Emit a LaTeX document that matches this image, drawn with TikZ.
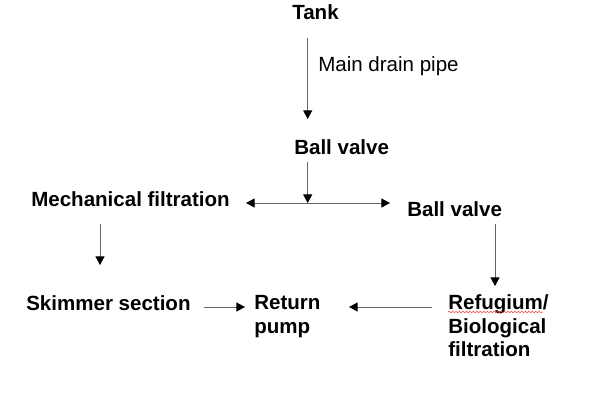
\documentclass[tikz,border=0pt]{standalone}
\usepackage{fontspec}
\setmainfont{Liberation Sans}
\usetikzlibrary{arrows.meta,decorations.pathmorphing}
\begin{document}
\begin{tikzpicture}[x=0.75pt,y=-0.75pt,
 lbl/.style={inner sep=0pt,anchor=base west,font=\fontsize{15.4}{17.5}\selectfont\bfseries,align=left},
 plainlbl/.style={inner sep=0pt,anchor=base west,font=\fontsize{15.4}{17.5}\selectfont},
 tip/.tip={Triangle[length=6.5pt,width=6.8pt,black]},
 arr/.style={draw=black!60,line width=0.75pt,-tip},
 dbl/.style={draw=black!60,line width=0.75pt,tip-tip},
 squiggle/.style={draw=red!75,line width=0.4pt,decorate,decoration={snake,amplitude=0.6pt,segment length=2.6pt}}]
\useasboundingbox (0,0) rectangle (606,400);
% text nodes (base = baseline of last line)
\node[lbl] (tank) at (292,19) {Tank};
\node[plainlbl] (drain) at (318,71) {Main drain pipe};
\node[lbl] (bv1) at (294,154) {Ball valve};
\node[lbl] (mech) at (31,206) {Mechanical filtration};
\node[lbl] (bv2) at (407,216) {Ball valve};
\node[lbl] (skim) at (26,310) {Skimmer section};
\node[lbl] (ret) at (254,333.3) {Return\\pump};
\node[lbl] (refu) at (448,356.6) {Refugium/\\Biological\\filtration};
% connector ends
\coordinate (a1s) at (307.7,38);  \coordinate (a1e) at (307.7,119);
\coordinate (a2s) at (307.7,162); \coordinate (jn) at (307.7,203);
\coordinate (dl) at (246,203);    \coordinate (dr) at (390,203);
\coordinate (a3s) at (100,224);   \coordinate (a3e) at (100,265);
\coordinate (a4s) at (495,224);   \coordinate (a4e) at (495,286);
\coordinate (a5s) at (204,307);   \coordinate (a5e) at (245,307);
\coordinate (a6s) at (432,307);   \coordinate (a6e) at (349,307);
\coordinate (sq1) at (448,312);   \coordinate (sq2) at (543,312);
% connectors
\draw[arr] (a1s) -- (a1e);
\draw[arr] (a2s) -- (jn);
\draw[dbl] (dl) -- (dr);
\draw[arr] (a3s) -- (a3e);
\draw[arr] (a4s) -- (a4e);
\draw[arr] (a5s) -- (a5e);
\draw[arr] (a6s) -- (a6e);
\draw[squiggle] (sq1) -- (sq2);
\end{tikzpicture}
\end{document}
